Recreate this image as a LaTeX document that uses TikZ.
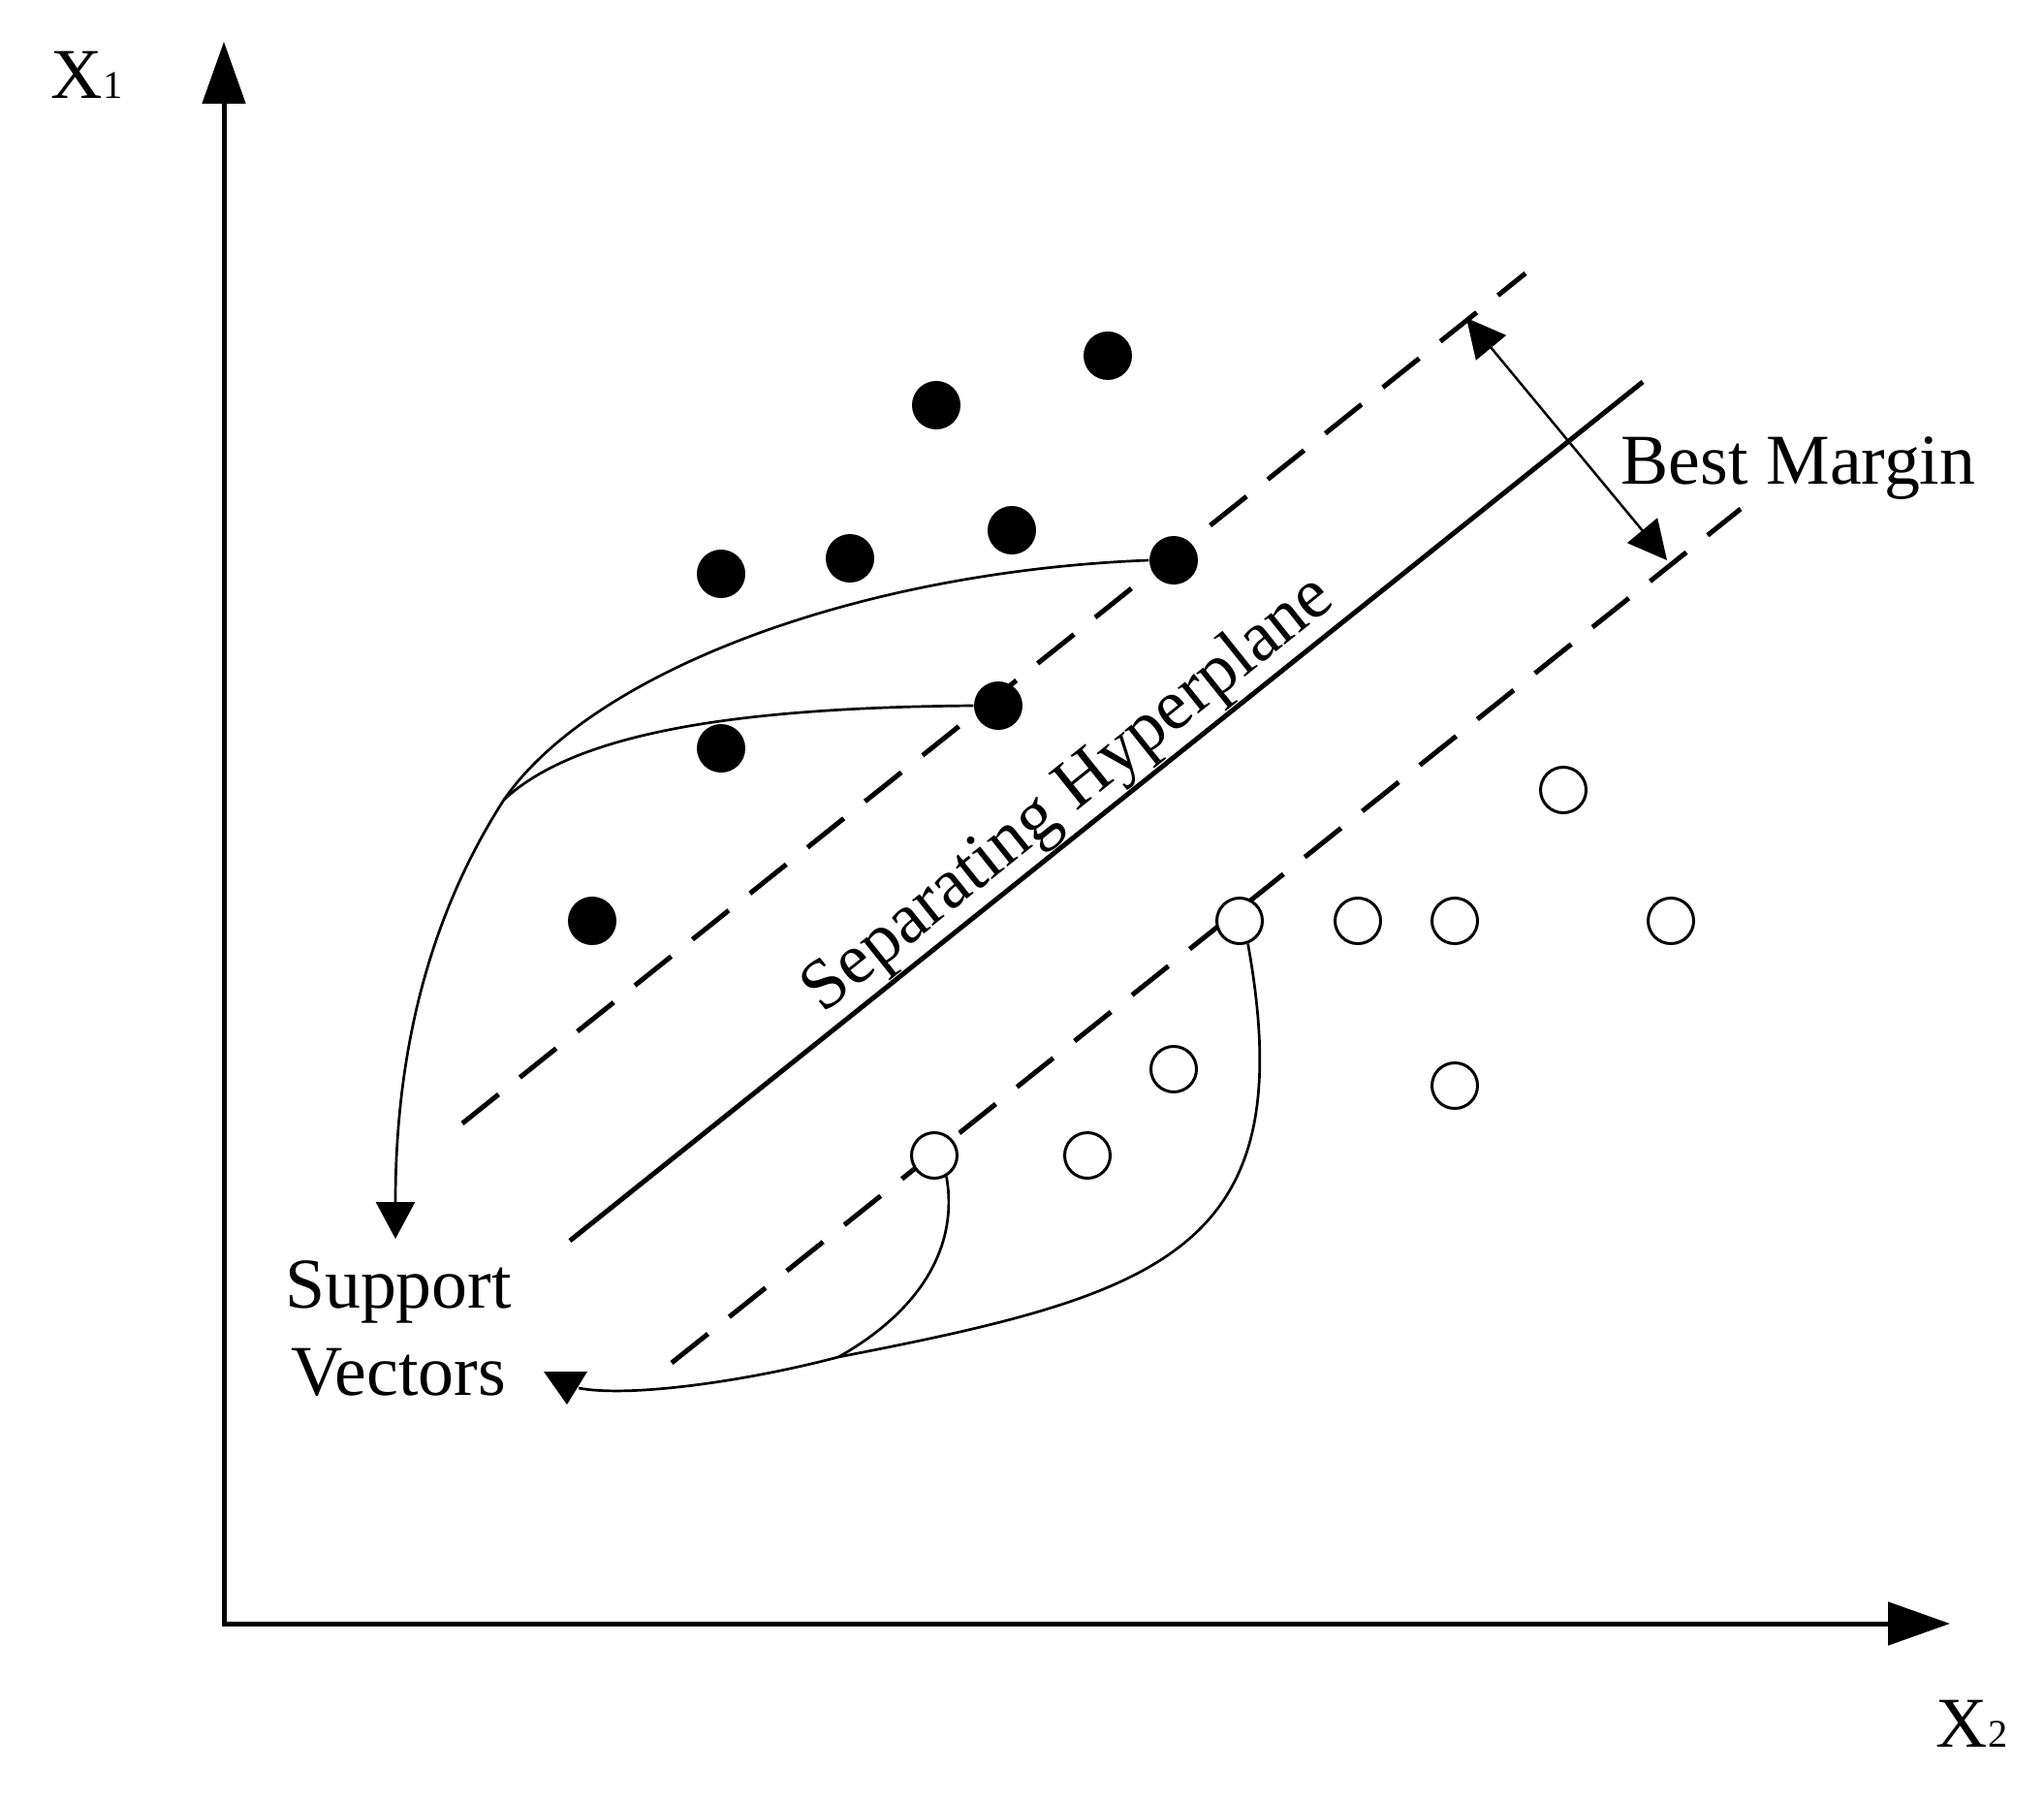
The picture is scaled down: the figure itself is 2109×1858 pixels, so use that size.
\documentclass[tikz,border=0pt]{standalone}
\usepackage{fontspec}
\setmainfont{Liberation Serif}
\usetikzlibrary{arrows.meta}
\begin{document}
\begin{tikzpicture}[x=0.1mm,y=0.1mm,
  lbl/.style={font=\fontsize{21}{25}\selectfont, inner sep=0pt},
  fdot/.style={circle, fill=black, minimum size=5mm, inner sep=0pt},
  odot/.style={circle, draw=black, fill=white, line width=0.3mm, minimum size=4.7mm, inner sep=0pt},
  axis/.style={line width=0.5mm, {Triangle[length=6.4mm,width=4.4mm]}-{Triangle[length=6.4mm,width=4.4mm]}},
  hyper/.style={line width=0.5mm},
  margin/.style={line width=0.5mm, dash pattern=on 4.8mm off 2.8mm},
  conn/.style={line width=0.27mm},
  tipA/.style={-{Triangle[length=3.8mm,width=4mm]}},
  bmarrow/.style={line width=0.25mm, {Triangle[length=4mm,width=4mm]}-{Triangle[length=4mm,width=4mm]}},
]
\useasboundingbox[fill=white] (0,0) rectangle (2109,-1858);

% axes
\coordinate (O) at (231,-1675);
\coordinate (ytip) at (231,-43);
\coordinate (xtip) at (2012,-1675);
\draw[axis] (ytip) -- (O) -- (xtip);
\node[lbl, anchor=base west] (x1) at (52,-102) {X\fontsize{11.5}{12}\selectfont 1};
\node[lbl, anchor=base west] (x2) at (1997,-1802) {X\fontsize{11.5}{12}\selectfont 2};

% margin lines and hyperplane
\coordinate (u1) at (477,-1159); \coordinate (u2) at (1574,-282);
\coordinate (h1) at (588,-1280); \coordinate (h2) at (1695,-394);
\coordinate (l1) at (693,-1406); \coordinate (l2) at (1796,-525);
\draw[margin] (u1) -- (u2);
\draw[hyper] (h1) -- (h2);
\draw[margin] (l1) -- (l2);

\node[lbl, anchor=base west, rotate=38.66] (sep) at (849,-1047) {Separating Hyperplane};

% best margin
\coordinate (bm1) at (1513,-328); \coordinate (bm2) at (1720,-578);
\draw[bmarrow] (bm1) -- (bm2);
\node[lbl, anchor=base west] (bm) at (1672,-500) {Best Margin};

% filled points
\node[fdot] (f1) at (1143,-367) {};
\node[fdot] (f2) at (966,-418) {};
\node[fdot] (f3) at (744,-592) {};
\node[fdot] (f4) at (877,-576) {};
\node[fdot] (f5) at (1044,-547) {};
\node[fdot] (f6) at (1211,-578) {};
\node[fdot] (f7) at (1030,-728) {};
\node[fdot] (f8) at (744,-772) {};
\node[fdot] (f9) at (611,-950) {};

% open points
\node[odot] (o1) at (1613,-815) {};
\node[odot] (o2) at (1279,-950) {};
\node[odot] (o3) at (1401,-950) {};
\node[odot] (o4) at (1501,-950) {};
\node[odot] (o5) at (1724,-950) {};
\node[odot] (o6) at (1211,-1103) {};
\node[odot] (o7) at (1501,-1120) {};
\node[odot] (o8) at (964,-1192) {};
\node[odot] (o9) at (1122,-1192) {};

% support vector labels
\node[lbl, anchor=base] (sv1) at (411,-1349) {Support};
\node[lbl, anchor=base] (sv2) at (411,-1439) {Vectors};

% connectors
\coordinate (m1) at (520,-825);
\coordinate (t1) at (408,-1278);
\draw[conn, tipA] (f6.west) .. controls (880,-590) and (610,-695) .. (m1)
   .. controls (446,-940) and (408,-1078) .. (t1);
\draw[conn] (f7.west) .. controls (755,-730) and (593,-757) .. (m1);

\coordinate (m2) at (865,-1400);
\coordinate (vin) at (597,-1432);
\coordinate (vt1) at (561,-1415);
\coordinate (vt2) at (606,-1415);
\coordinate (vt3) at (585,-1449);
\draw[conn] (o2.-70) .. controls (1345,-1290) and (1200,-1335) .. (m2)
   .. controls (770,-1425) and (650,-1442) .. (vin);
\draw[conn] (o8.-60) .. controls (990,-1290) and (945,-1355) .. (m2);
\fill (vt1) -- (vt2) -- (vt3) -- cycle;
\end{tikzpicture}
\end{document}
